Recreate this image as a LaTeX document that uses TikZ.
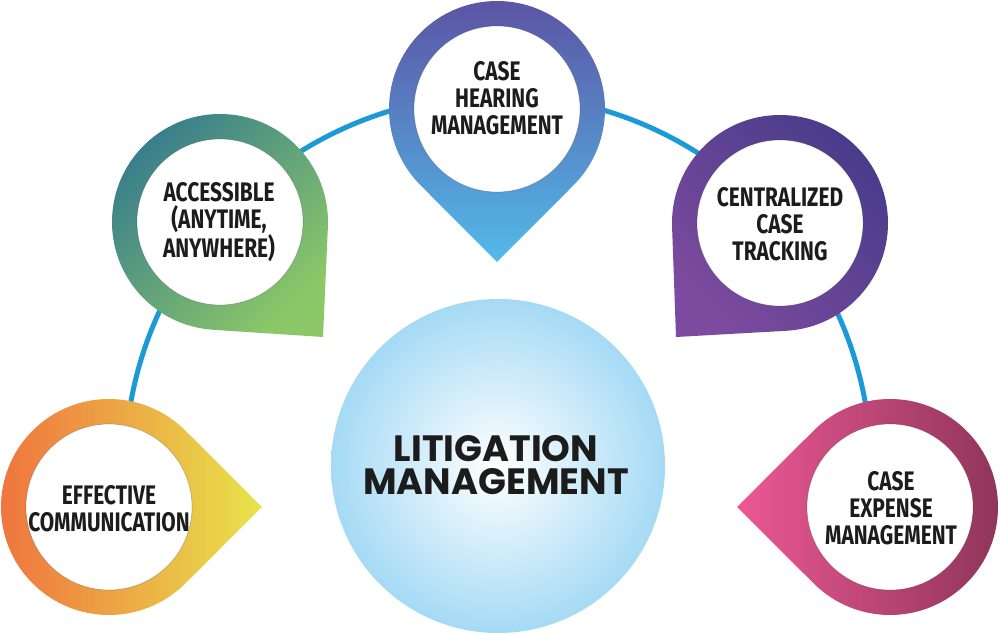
\documentclass[tikz,border=0pt]{standalone}
\usepackage{fontspec}
\newfontfamily\pinfont{Fira Sans}[FakeStretch=0.78]
\newfontfamily\centerfont{Poppins}
\usetikzlibrary{calc}
\definecolor{arcblue}{RGB}{26,155,216}
\definecolor{oA}{RGB}{240,112,62}
\definecolor{oB}{RGB}{232,228,74}
\definecolor{gA}{RGB}{56,126,140}
\definecolor{gB}{RGB}{140,200,104}
\definecolor{bA}{RGB}{92,80,162}
\definecolor{bB}{RGB}{82,186,234}
\definecolor{pA}{RGB}{72,60,138}
\definecolor{pB}{RGB}{124,74,158}
\definecolor{mA}{RGB}{236,88,148}
\definecolor{mB}{RGB}{140,52,88}
\definecolor{ballblue}{RGB}{165,218,245}
\definecolor{txt}{RGB}{28,28,28}
\tikzset{
  pintext/.style={font=\pinfont\bfseries\fontsize{26.8}{27}\selectfont, align=center, text=txt, inner sep=0pt},
  maintext/.style={font=\centerfont\bfseries\fontsize{36.6}{33}\selectfont, align=center, text=txt, inner sep=0pt},
  innerdisc/.style={fill=white, draw=black, draw opacity=0.2, line width=0.8pt},
  link/.style={draw=arcblue, line width=5pt}
}
\begin{document}
\begin{tikzpicture}[x=1pt,y=1pt]
\useasboundingbox (0,0) rectangle (1000,634);
\fill[white] (0,0) rectangle (1000,634);
% centres and tips
\coordinate (ac) at (498,166);
\coordinate (ctr) at (498,168);
\coordinate (c1) at (109,127);  \coordinate (t1) at (262,127);
\coordinate (c2) at (220,412);  \coordinate (t2) at (323,297);
\coordinate (c3) at (497,525);  \coordinate (t3) at (497,372);
\coordinate (c4) at (780,411);  \coordinate (t4) at (676,297);
\coordinate (c5) at (890,127);  \coordinate (t5) at (737,127);
% connecting arc
\draw[link] ($(ac)+(4:373)$) arc[start angle=4, end angle=176, radius=373];
% central ball
\shade[inner color=white, outer color=ballblue] (ctr) circle[radius=167];
\node[maintext] (main) at (496,169) {LITIGATION\\MANAGEMENT};
% pins
\shade[left color=oA, right color=oB] (t1) -- ($(c1)+(45.1:108)$) arc[start angle=45.1, end angle=314.9, radius=108] -- cycle;
\draw[innerdisc] (c1) circle[radius=83];
\shade[top color=gA, bottom color=gB, shading angle=45] (t2) -- ($(c2)+(-2.55:108)$) arc[start angle=-2.55, end angle=266.25, radius=108] -- cycle;
\draw[innerdisc] (c2) circle[radius=83];
\shade[top color=bA, bottom color=bB] (t3) -- ($(c3)+(-44.9:108)$) arc[start angle=-44.9, end angle=224.9, radius=108] -- cycle;
\draw[innerdisc] (c3) circle[radius=83];
\shade[top color=pA, bottom color=pB, shading angle=-45] (t4) -- ($(c4)+(273.2:108)$) arc[start angle=273.2, end angle=542.04, radius=108] -- cycle;
\draw[innerdisc] (c4) circle[radius=83];
\shade[left color=mA, right color=mB] (t5) -- ($(c5)+(225.1:108)$) arc[start angle=225.1, end angle=494.9, radius=108] -- cycle;
\draw[innerdisc] (c5) circle[radius=83];
% labels
\node[pintext] (l1) at (109,125) {EFFECTIVE\\COMMUNICATION};
\node[pintext] (l2) at (219,411.5) {ACCESSIBLE\\(ANYTIME,\\ANYWHERE)};
\node[pintext] (l3) at (497,535.5) {CASE\\HEARING\\MANAGEMENT};
\node[pintext] (l4) at (780,409.5) {CENTRALIZED\\CASE\\TRACKING};
\node[pintext] (l5) at (891,125.5) {CASE\\EXPENSE\\MANAGEMENT};
\end{tikzpicture}
\end{document}
